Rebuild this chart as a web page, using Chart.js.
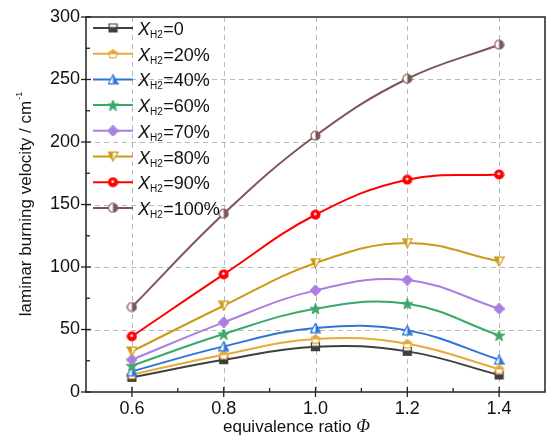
<!DOCTYPE html>
<html>
<head>
<meta charset="utf-8">
<script src="https://cdn.jsdelivr.net/npm/chart.js@4.4.0/dist/chart.umd.min.js"></script>
<style>
  html, body { margin: 0; padding: 0; background: #fff; }
  #wrap { width: 552px; height: 437px; }
</style>
</head>
<body>
<div id="wrap"><canvas id="chart"></canvas></div>
<script>
// equivalence ratio (x) and tick positions
const phi = [0.6, 0.8, 1.0, 1.2, 1.4];
const xTicks = [0.6, 0.8, 1.0, 1.2, 1.4];
const xMinor = [0.7, 0.9, 1.1, 1.3];

// laminar burning velocity per hydrogen fraction
const h2Labels = ['0', '20%', '40%', '60%', '70%', '80%', '90%', '100%'];
const v0   = [11.7, 25.8, 36.2, 32.5, 13.6];
const v20  = [14.0, 29.8, 42.4, 38.6, 18.3];
const v40  = [16.5, 36.5, 51.2, 49.3, 25.8];
const v60  = [21.0, 46.4, 66.6, 70.6, 45.3];
const v70  = [25.8, 55.7, 81.3, 89.6, 66.6];
const v80  = [32.5, 69.0, 103.2, 119.2, 104.5];
const v90  = [44.5, 94.1, 141.8, 169.8, 174.0];
const v100 = [68.0, 142.6, 205.0, 250.6, 277.8];

const seriesValues = [v0, v20, v40, v60, v70, v80, v90, v100];
const colors = ['#3f3f3f', '#e8a93a', '#2f74d8', '#3aa86a', '#ab7fe0', '#cc9a14', '#ff0000', '#7e5656'];
const shapes = ['square', 'pentagon', 'triUp', 'star', 'diamond', 'triDown', 'ball', 'circle'];
const fills  = ['bottom', 'top', 'right', 'full', 'full', 'left', 'full', 'right'];

// small marker images, half-filled like the original symbols
const MS = 11;
function shapePath(ctx, shape) {
  const s = MS, c = s / 2;
  ctx.beginPath();
  if (shape === 'square') {
    ctx.rect(1.5, 1.5, s - 3, s - 3);
  } else if (shape === 'pentagon') {
    for (let i = 0; i < 5; i++) {
      const a = -Math.PI / 2 + i * 2 * Math.PI / 5;
      const x = c + 4.6 * Math.cos(a), y = c + 0.5 + 4.6 * Math.sin(a);
      i ? ctx.lineTo(x, y) : ctx.moveTo(x, y);
    }
    ctx.closePath();
  } else if (shape === 'triUp') {
    ctx.moveTo(c, 0.8); ctx.lineTo(s - 0.8, s - 1.2); ctx.lineTo(0.8, s - 1.2); ctx.closePath();
  } else if (shape === 'triDown') {
    ctx.moveTo(0.8, 1.2); ctx.lineTo(s - 0.8, 1.2); ctx.lineTo(c, s - 0.8); ctx.closePath();
  } else if (shape === 'diamond') {
    ctx.moveTo(c, 0.3); ctx.lineTo(s - 0.3, c); ctx.lineTo(c, s - 0.3); ctx.lineTo(0.3, c); ctx.closePath();
  } else if (shape === 'star') {
    for (let i = 0; i < 10; i++) {
      const r = i % 2 ? 2.2 : 5.4;
      const a = -Math.PI / 2 + i * Math.PI / 5;
      const x = c + r * Math.cos(a), y = c + 0.5 + r * Math.sin(a);
      i ? ctx.lineTo(x, y) : ctx.moveTo(x, y);
    }
    ctx.closePath();
  } else {
    ctx.arc(c, c, 4.5, 0, Math.PI * 2);
  }
}

function makeMarker(shape, color, fill) {
  const s = MS;
  const cv = document.createElement('canvas');
  cv.width = s; cv.height = s;
  const ctx = cv.getContext('2d');
  shapePath(ctx, shape);
  ctx.fillStyle = '#fff';
  ctx.fill();
  ctx.save();
  ctx.clip();
  ctx.fillStyle = color;
  const h = s / 2;
  if (fill === 'full') ctx.fillRect(0, 0, s, s);
  if (fill === 'bottom') ctx.fillRect(0, h - 1, s, s);
  if (fill === 'top') ctx.fillRect(0, 0, s, h + 0.5);
  if (fill === 'left') ctx.fillRect(0, 0, h, s);
  if (fill === 'right') ctx.fillRect(h, 0, s, s);
  ctx.restore();
  shapePath(ctx, shape);
  ctx.strokeStyle = color;
  ctx.lineWidth = 1.2;
  ctx.stroke();
  if (shape === 'ball') {
    ctx.beginPath();
    ctx.arc(s / 2 - 0.3, s / 2 - 0.8, 1.5, 0, Math.PI * 2);
    ctx.fillStyle = '#ffdede';
    ctx.fill();
  }
  return cv;
}

const markers = shapes.map((sh, i) => makeMarker(sh, colors[i], fills[i]));

const datasets = seriesValues.map((vals, i) => ({
  label: 'XH2=' + h2Labels[i],
  data: phi.map((x, j) => ({ x: x, y: vals[j] })),
  borderColor: colors[i],
  backgroundColor: colors[i],
  borderWidth: 2,
  tension: 0.4,
  pointStyle: markers[i],
  pointRadius: 5,
  order: 8 - i
}));

const FONT = '"Liberation Sans", Arial, sans-serif';
const SERIF = '"Liberation Serif", "Times New Roman", serif';

// dashed grid, frame, in/out ticks, titles, legend
const framePlugin = {
  id: 'frame',
  beforeDatasetsDraw(chart) {
    const { ctx, chartArea: a, scales: { x, y } } = chart;
    ctx.save();
    ctx.strokeStyle = '#b9b9b9';
    ctx.lineWidth = 1;
    ctx.setLineDash([5, 4]);
    xTicks.forEach(t => {
      const px = Math.round(x.getPixelForValue(t)) + 0.5;
      ctx.beginPath(); ctx.moveTo(px, a.top); ctx.lineTo(px, a.bottom); ctx.stroke();
    });
    for (let v = 50; v < 300; v += 50) {
      const py = Math.round(y.getPixelForValue(v)) + 0.5;
      ctx.beginPath(); ctx.moveTo(a.left, py); ctx.lineTo(a.right, py); ctx.stroke();
    }
    ctx.restore();
  },
  afterDraw(chart) {
    const { ctx, chartArea: a, scales: { x, y } } = chart;
    ctx.save();
    ctx.strokeStyle = '#222';
    ctx.lineWidth = 1.5;
    ctx.strokeRect(a.left, a.top, a.right - a.left, a.bottom - a.top);
    ctx.lineWidth = 1.3;
    xTicks.forEach(t => {
      const px = x.getPixelForValue(t);
      ctx.beginPath(); ctx.moveTo(px, a.bottom + 5); ctx.lineTo(px, a.bottom - 5); ctx.stroke();
    });
    xMinor.forEach(t => {
      const px = x.getPixelForValue(t);
      ctx.beginPath(); ctx.moveTo(px, a.bottom); ctx.lineTo(px, a.bottom - 4); ctx.stroke();
    });
    for (let v = 0; v <= 300; v += 25) {
      const py = y.getPixelForValue(v);
      const major = v % 50 === 0;
      ctx.beginPath();
      ctx.moveTo(a.left - (major ? 5 : 0), py);
      ctx.lineTo(a.left + (major ? 5 : 4), py);
      ctx.stroke();
    }

    // axis titles
    ctx.fillStyle = '#111';
    ctx.textBaseline = 'alphabetic';
    const xt = 'equivalence ratio ';
    ctx.font = '17px ' + FONT;
    const w1 = ctx.measureText(xt).width;
    ctx.fillText(xt, 223, 432);
    ctx.font = 'italic 18px ' + SERIF;
    ctx.fillText('Φ', 223 + w1, 432);

    ctx.save();
    ctx.translate(31, (a.top + a.bottom) / 2);
    ctx.rotate(-Math.PI / 2);
    const yt = 'laminar burning velocity / cm';
    ctx.font = '17px ' + FONT;
    const wy = ctx.measureText(yt).width;
    ctx.font = '9px ' + FONT;
    const ws = ctx.measureText('-1').width;
    const sy = -(wy + ws) / 2;
    ctx.font = '17px ' + FONT;
    ctx.fillText(yt, sy, 0);
    ctx.font = '9px ' + FONT;
    ctx.fillText('-1', sy + wy + 1, -9);
    ctx.restore();

    // legend
    const lx = 93, step = 25.7;
    h2Labels.forEach((lab, i) => {
      const ly = 28 + i * step;
      ctx.strokeStyle = colors[i];
      ctx.lineWidth = 2;
      ctx.beginPath(); ctx.moveTo(lx, ly); ctx.lineTo(lx + 40, ly); ctx.stroke();
      ctx.drawImage(markers[i], lx + 20 - MS / 2, ly - MS / 2);
      ctx.fillStyle = '#111';
      let tx = lx + 45;
      ctx.font = 'italic 18px ' + FONT;
      ctx.fillText('X', tx, ly + 7);
      tx += ctx.measureText('X').width;
      ctx.font = '10px ' + FONT;
      ctx.fillText('H2', tx, ly + 10);
      tx += ctx.measureText('H2').width + 0.5;
      ctx.font = '18px ' + FONT;
      ctx.fillText('=' + lab, tx, ly + 7);
    });
    ctx.restore();
  }
};

new Chart(document.getElementById('chart'), {
  type: 'line',
  data: { datasets: datasets },
  options: {
    responsive: true,
    maintainAspectRatio: false,
    animation: false,
    layout: { padding: { top: 17, right: 1, left: 0, bottom: 0 } },
    plugins: { legend: { display: false }, tooltip: { enabled: false } },
    scales: {
      x: {
        type: 'linear',
        min: 0.5,
        max: 1.5,
        afterBuildTicks: s => { s.ticks = xTicks.map(v => ({ value: v })); },
        afterFit: s => { s.height = 45; },
        grid: { display: false, drawTicks: false },
        border: { display: false },
        ticks: {
          padding: 6,
          color: '#111',
          font: { family: FONT, size: 18 },
          callback: v => Number(v).toFixed(1)
        }
      },
      y: {
        min: 0,
        max: 300,
        afterFit: s => { s.width = 86; },
        grid: { display: false, drawTicks: false },
        border: { display: false },
        ticks: {
          stepSize: 50,
          padding: 6,
          color: '#111',
          font: { family: FONT, size: 18 }
        }
      }
    }
  },
  plugins: [framePlugin]
});
</script>
</body>
</html>
